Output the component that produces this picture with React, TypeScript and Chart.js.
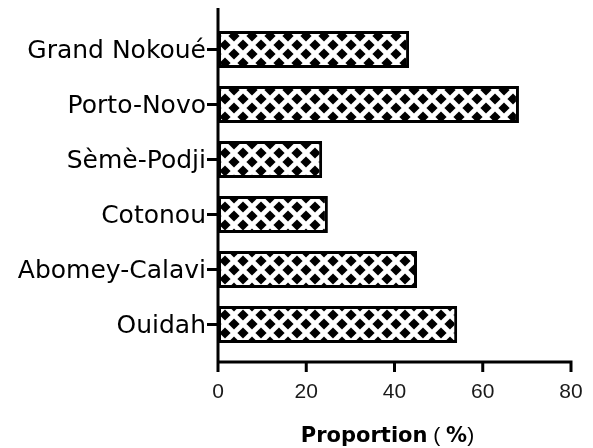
import React, { useEffect, useRef } from 'react';
import { Chart, registerables } from 'chart.js';

Chart.register(...registerables);

const categories = ['Grand Nokoué', 'Porto-Novo', 'Sèmè-Podji', 'Cotonou', 'Abomey-Calavi', 'Ouidah'];
const proportions = [43.3, 68.2, 23.6, 24.9, 45.1, 54.2];
const xTicks = [0, 20, 40, 60, 80];
const axisTitleParts = [
  { text: 'Proportion', bold: true },
  { text: ' ( ', bold: false },
  { text: '%', bold: true },
  { text: ')', bold: false },
];

const axesPlugin = {
  id: 'customAxes',
  afterDraw(chart: any) {
    const { ctx, chartArea, scales } = chart;
    const x0 = chartArea.left;
    const yAxis = chartArea.bottom + 10;
    const top = chartArea.top - 14;
    ctx.save();
    ctx.strokeStyle = '#000';
    ctx.lineWidth = 3;
    ctx.lineCap = 'butt';
    ctx.beginPath();
    ctx.moveTo(x0, top);
    ctx.lineTo(x0, yAxis + 1.5);
    ctx.moveTo(x0 - 1.5, yAxis);
    ctx.lineTo(scales.x.getPixelForValue(xTicks[xTicks.length - 1]) + 1.5, yAxis);
    xTicks.forEach((v) => {
      const px = scales.x.getPixelForValue(v);
      ctx.moveTo(px, yAxis);
      ctx.lineTo(px, yAxis + 10);
    });
    categories.forEach((_, i) => {
      const py = scales.y.getPixelForValue(i);
      ctx.moveTo(x0 - 11, py);
      ctx.lineTo(x0, py);
    });
    ctx.stroke();

    // axis title
    const fontFor = (bold: boolean) =>
      bold ? 'bold 21px "DejaVu Sans"' : '21px "Liberation Sans"';
    let total = 0;
    const widths = axisTitleParts.map((p) => {
      ctx.font = fontFor(p.bold);
      const w = ctx.measureText(p.text).width;
      total += w;
      return w;
    });
    let tx = (chartArea.left + chartArea.right) / 2 - 7 - total / 2;
    const ty = chart.height - 6;
    ctx.fillStyle = '#000';
    ctx.textBaseline = 'alphabetic';
    ctx.textAlign = 'left';
    axisTitleParts.forEach((p, i) => {
      ctx.font = fontFor(p.bold);
      ctx.fillText(p.text, tx, ty);
      tx += widths[i];
    });
    ctx.restore();
  },
};

export default function App() {
  const ref = useRef<HTMLCanvasElement>(null);

  useEffect(() => {
    const canvas = ref.current!;
    const tile = document.createElement('canvas');
    tile.width = 18;
    tile.height = 18;
    const t = tile.getContext('2d')!;
    t.fillStyle = '#fff';
    t.fillRect(0, 0, 18, 18);
    t.fillStyle = '#000';
    const diamond = (cx: number, cy: number, r: number) => {
      t.beginPath();
      t.moveTo(cx, cy - r);
      t.lineTo(cx + r, cy);
      t.lineTo(cx, cy + r);
      t.lineTo(cx - r, cy);
      t.closePath();
      t.fill();
    };
    [[0, 0], [18, 0], [0, 18], [18, 18], [9, 9]].forEach(([x, y]) => diamond(x, y, 5.6));
    const pattern = canvas.getContext('2d')!.createPattern(tile, 'repeat');

    const chart = new Chart(canvas, {
      type: 'bar',
      data: {
        labels: categories,
        datasets: [
          {
            data: proportions,
            backgroundColor: pattern as any,
            borderColor: '#000',
            borderWidth: 3,
            borderSkipped: false,
            barPercentage: 0.67,
            categoryPercentage: 1,
          },
        ],
      },
      options: {
        indexAxis: 'y',
        animation: false,
        responsive: false,
        layout: { padding: 0 },
        plugins: { legend: { display: false }, tooltip: { enabled: false } },
        scales: {
          x: {
            type: 'linear',
            min: 0,
            max: 80,
            afterBuildTicks: (s: any) => {
              s.ticks = xTicks.map((v) => ({ value: v }));
            },
            grid: { display: false, drawTicks: false },
            border: { display: false },
            ticks: {
              font: { family: 'Liberation Sans', size: 21 },
              color: '#1a1a1a',
              padding: 28,
              maxRotation: 0,
            },
            title: { display: false },
            afterFit: (s: any) => {
              s.height = 96;
              s.paddingLeft = 0;
              s.paddingRight = 22;
            },
          },
          y: {
            type: 'category',
            offset: true,
            grid: { display: false, drawTicks: false },
            border: { display: false },
            ticks: {
              font: { family: 'DejaVu Sans', size: 25 },
              color: '#000',
              padding: 12,
              labelOffset: 2,
            },
            afterFit: (s: any) => {
              s.width = 218;
              s.paddingTop = 22;
              s.paddingBottom = 0;
            },
          },
        },
      },
      plugins: [axesPlugin],
    });
    return () => chart.destroy();
  }, []);

  return (
    <div style={{ position: 'fixed', left: 0, top: 0, width: 593, height: 448, background: '#fff' }}>
      <canvas ref={ref} width={593} height={448} />
    </div>
  );
}
